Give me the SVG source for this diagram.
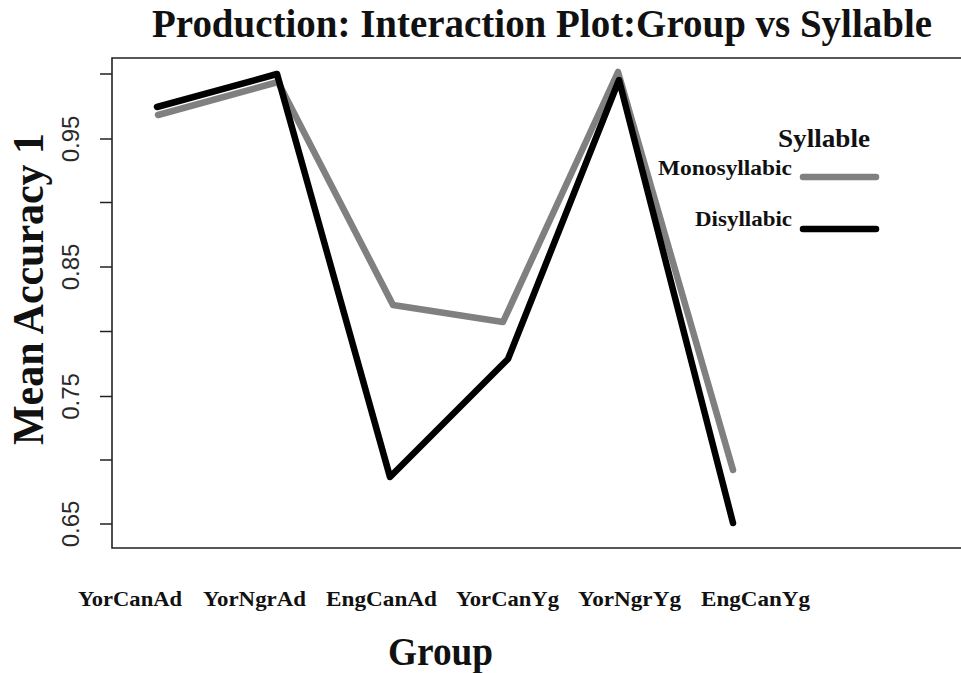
<svg xmlns="http://www.w3.org/2000/svg" width="961" height="673" viewBox="0 0 961 673">
<style>
.serif{font-family:"Liberation Serif","Times New Roman",serif;font-weight:bold;fill:#111}
.tick{font-family:"Liberation Sans",Arial,sans-serif;font-size:24px;fill:#2a2a2a}
.axis{stroke:#222;stroke-width:1.6;fill:none}
.ln{fill:none;stroke-width:6.5;stroke-linejoin:round;stroke-linecap:round}
.gray{stroke:#808080}
.black{stroke:#000}
</style>
<rect width="961" height="673" fill="#fff"/>
<g id="title"><text class="serif" x="152" y="37" font-size="40" textLength="780" lengthAdjust="spacingAndGlyphs">Production: Interaction Plot:Group vs Syllable</text></g>
<g id="frame">
<path class="axis" d="M961,58 H112 V548 H961"/>
</g>
<g id="yaxis">
<path class="axis" d="M100,74 H112 M100,139 H112 M100,202.5 H112 M100,267 H112 M100,331.5 H112 M100,396.5 H112 M100,460 H112 M100,524 H112"/>
<text class="tick" text-anchor="middle" transform="translate(79,139) rotate(-90)">0.95</text>
<text class="tick" text-anchor="middle" transform="translate(79,267) rotate(-90)">0.85</text>
<text class="tick" text-anchor="middle" transform="translate(79,396.5) rotate(-90)">0.75</text>
<text class="tick" text-anchor="middle" transform="translate(79,524) rotate(-90)">0.65</text>
<text class="serif" font-size="44" text-anchor="middle" textLength="312" lengthAdjust="spacingAndGlyphs" transform="translate(43,289) rotate(-90)">Mean Accuracy 1</text>
</g>
<g id="xaxis">
<text class="serif" font-size="22" x="78" y="606" textLength="104" lengthAdjust="spacingAndGlyphs">YorCanAd</text>
<text class="serif" font-size="22" x="203" y="606" textLength="103" lengthAdjust="spacingAndGlyphs">YorNgrAd</text>
<text class="serif" font-size="22" x="326" y="606" textLength="111" lengthAdjust="spacingAndGlyphs">EngCanAd</text>
<text class="serif" font-size="22" x="456" y="606" textLength="103" lengthAdjust="spacingAndGlyphs">YorCanYg</text>
<text class="serif" font-size="22" x="578" y="606" textLength="103" lengthAdjust="spacingAndGlyphs">YorNgrYg</text>
<text class="serif" font-size="22" x="701" y="606" textLength="109" lengthAdjust="spacingAndGlyphs">EngCanYg</text>
<text class="serif" font-size="40" x="388" y="665" textLength="105" lengthAdjust="spacingAndGlyphs">Group</text>
</g>
<g id="connectors">
<polyline id="monosyllabic" class="ln gray" points="158,115 278,82 393,305 503,322 618,72 733,470"/>
<polyline id="disyllabic" class="ln black" points="157,107 277,74 390,477 508,359 619,80 733,523"/>
</g>
<g id="legend">
<text class="serif" font-size="25" x="778" y="147" textLength="92" lengthAdjust="spacingAndGlyphs">Syllable</text>
<text class="serif" font-size="21" x="658" y="175" textLength="134" lengthAdjust="spacingAndGlyphs">Monosyllabic</text>
<line class="ln gray" stroke-width="7" x1="803" y1="177" x2="876" y2="177"/>
<text class="serif" font-size="21" x="695" y="226" textLength="97" lengthAdjust="spacingAndGlyphs">Disyllabic</text>
<line class="ln black" stroke-width="7" x1="803" y1="229" x2="876" y2="229"/>
</g>
</svg>
